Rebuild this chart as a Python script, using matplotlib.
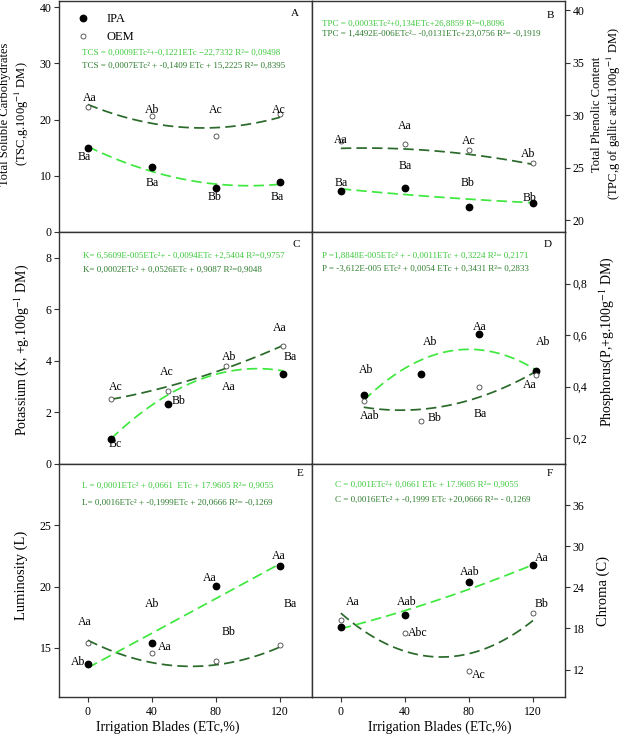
import numpy as np
import matplotlib
matplotlib.use("Agg")
import matplotlib.pyplot as plt
from matplotlib.lines import Line2D

plt.rcParams['font.family'] = ['Liberation Serif', 'DejaVu Serif']
plt.rcParams['mathtext.fontset'] = 'stix'

# ---------------- data ----------------
blades = [0, 40, 80, 120]
xtick_labels = ["0", "40", "80", "120"]

tsc_ipa = [15.0, 11.6, 7.8, 8.9]
tsc_oem = [22.3, 20.7, 17.1, 21.0]
tsc_ipa_trend = [15.2, 10.8, 8.5, 8.5]
tsc_oem_trend = [22.7, 19.3, 18.6, 20.4]

tpc_ipa = [22.8, 23.1, 21.3, 21.7]
tpc_oem = [27.6, 27.3, 26.7, 25.5]
tpc_ipa_trend = [23.0, 22.5, 22.0, 21.7]
tpc_oem_trend = [26.8, 27.0, 26.1, 25.4]

k_ipa = [0.96, 2.32, np.nan, 3.51]
k_oem = [2.52, 2.84, 3.79, 4.59]
k_ipa_trend = [0.96, 2.71, 3.55, 3.62]
k_oem_trend = [2.52, 2.97, 3.75, 4.59]

p_ipa = [0.368, 0.45, 0.605, 0.46]
p_oem = [0.345, 0.268, 0.40, 0.447]
p_ipa_trend = [0.348, 0.50, 0.547, 0.463]
p_oem_trend = [0.32, 0.313, 0.358, 0.46]

lum_ipa = [13.66, 15.41, 20.06, 21.70]
lum_oem = [15.44, 14.59, 13.91, 15.28]
lum_ipa_trend = [13.39, 16.18, 19.05, 21.86]
lum_oem_trend = [15.63, 13.81, 13.62, 15.08]

chroma_ipa = [18.28, 19.99, 24.84, 27.19]
chroma_oem = [19.25, 17.40, 11.75, 20.19]
chroma_ipa_trend = [17.98, 20.57, 23.76, 27.29]
chroma_oem_trend = [20.2, 14.8, 14.2, 19.2]

eq_A = ["TCS = 0,0009ETc²+-0,1221ETc −22,7332 R²= 0,09498",
        "TCS = 0,0007ETc² + -0,1409 ETc + 15,2225 R²= 0,8395"]
eq_B = ["TPC = 0,0003ETc²+0,134ETc+26,8859 R²=0,8096",
        "TPC = 1,4492E-006ETc²– -0,0131ETc+23,0756 R²= -0,1919"]
eq_C = ["K= 6,5609E-005ETc²+ - 0,0094ETc +2,5404 R²=0,9757",
        "K= 0,0002ETc² + 0,0526ETc + 0,9087 R²=0,9048"]
eq_D = ["P =1,8848E-005ETc² + - 0,0011ETc + 0,3224 R²= 0,2171",
        "P = -3,612E-005 ETc² + 0,0054 ETc + 0,3431 R²= 0,2833"]
eq_E = ["L = 0,0001ETc² + 0,0661  ETc + 17.9605 R²= 0,9055",
        "L= 0,0016ETc² + -0,1999ETc + 20,0666 R²= -0,1269"]
eq_F = ["C = 0,001ETc²+ 0,0661 ETc + 17.9605 R²= 0,9055",
        "C = 0,0016ETc² + -0,1999 ETc +20,0666 R²= - 0,1269"]

letters_A = ["Aa", "Ab", "Ac", "Ac", "Ba", "Ba", "Bb", "Ba"]
letters_B = ["Aa", "Aa", "Ac", "Ab", "Ba", "Ba", "Bb", "Bb"]
letters_C = ["Ac", "Ac", "Ab", "Aa", "Ba", "Aa", "Bb", "Bc"]
letters_D = ["Ab", "Ab", "Aa", "Ab", "Aab", "Bb", "Ba", "Aa"]
letters_E = ["Ab", "Aa", "Ab", "Aa", "Aa", "Bb", "Aa", "Ba"]
letters_F = ["Aa", "Aab", "Abc", "Aab", "Ac", "Aa", "Bb"]

# ---------------- style ----------------
LIGHT = "#3ee83e"
DARK = "#2a6a2a"
EQ_LIGHT = "#3cc83c"
EQ_DARK = "#2f7d2f"
SPINE = "#333333"
W, H = 625, 739

fig = plt.figure(figsize=(W / 100, H / 100), dpi=100)


def box(l, t, r, b):
    return [l / W, 1 - b / H, (r - l) / W, (b - t) / H]


def panel(rect, ipa, oem, ipa_tr, oem_tr, ylim, yticks, yticklabels, side,
          xlim, eqs, eq_xy, eq_dy, letter, letter_xy, letters, letter_pos,
          bottom_row):
    ax = fig.add_axes(rect)
    xs = np.linspace(0, 120, 120)
    for tr, col in ((oem_tr, DARK), (ipa_tr, LIGHT)):
        c = np.polyfit(blades, tr, 2)
        ax.plot(xs, np.polyval(c, xs), color=col, lw=1.25, dashes=(6, 3), zorder=2)
    ax.plot(blades, ipa, 'o', ms=4.6, color='black', ls='none', zorder=3)
    ax.plot(blades, oem, 'o', ms=3.6, mfc='white', mec='#444444', mew=0.6,
            ls='none', zorder=3)
    ax.set_xlim(*xlim)
    ax.set_ylim(*ylim)
    ax.set_yticks(yticks)
    ax.set_yticklabels(yticklabels)
    for s in ax.spines.values():
        s.set_color(SPINE)
        s.set_linewidth(1.0)
    if side == 'left':
        ax.tick_params(axis='y', left=True, right=False, labelleft=True,
                       labelright=False, direction='out', length=3.5,
                       labelsize=8.5, color=SPINE, pad=2)
    else:
        ax.tick_params(axis='y', left=False, right=True, labelleft=False,
                       labelright=True, direction='out', length=3.5,
                       labelsize=8.5, color=SPINE, pad=2)
    if bottom_row:
        ax.set_xticks(blades)
        ax.set_xticklabels(xtick_labels)
        ax.tick_params(axis='x', direction='out', length=3.5, labelsize=8.5,
                       color=SPINE, pad=3)
    else:
        ax.set_xticks([])
    ax.text(eq_xy[0], eq_xy[1], eqs[0], transform=ax.transAxes, fontsize=6.5,
            color=EQ_LIGHT, ha='left', va='center')
    ax.text(eq_xy[0], eq_xy[1] - eq_dy, eqs[1], transform=ax.transAxes,
            fontsize=6.5, color=EQ_DARK, ha='left', va='center')
    ax.text(letter_xy[0], letter_xy[1], letter, transform=ax.transAxes,
            fontsize=8, ha='center', va='center')
    for t, (px, py) in zip(letters, letter_pos):
        ax.text(px, py, t, fontsize=8.5, ha='center', va='center', zorder=4)
    return ax


xl_main = (-18, 140)
xl_mid = (-36, 140)

axA = panel(box(59, 1, 312, 232), tsc_ipa, tsc_oem, tsc_ipa_trend, tsc_oem_trend,
            (0, 41.1), [0, 10, 20, 30, 40], ["0", "10", "20", "30", "40"], 'left',
            xl_main, eq_A, (0.091, 0.774), 0.056, "A", (0.933, 0.944), letters_A,
            [(1, 23.8), (40, 21.7), (80, 21.7), (119, 21.7),
             (-2, 13.4), (40, 8.8), (79, 6.2), (118, 6.2)], False)
axA.legend(handles=[Line2D([], [], marker='o', ls='none', color='black', ms=4.6),
                    Line2D([], [], marker='o', ls='none', mfc='white',
                           mec='#444444', mew=0.6, ms=3.6)],
           labels=["IPA", "OEM"], loc='upper left', bbox_to_anchor=(0.025, 0.995),
           frameon=False, fontsize=9, handlelength=1.0, handletextpad=1.4,
           labelspacing=0.45)

panel(box(312, 1, 565, 232), tpc_ipa, tpc_oem, tpc_ipa_trend, tpc_oem_trend,
      (18.9, 40.9), [20, 25, 30, 35, 40], ["20", "25", "30", "35", "40"], 'right',
      xl_main, eq_B, (0.04, 0.900), 0.040, "B", (0.941, 0.939), letters_B,
      [(0, 27.7), (40, 29.0), (80, 27.6), (117, 26.3),
       (0, 23.6), (40, 25.2), (79, 23.6), (118, 22.1)], False)

panel(box(59, 232, 312, 464), k_ipa, k_oem, k_ipa_trend, k_oem_trend,
      (0, 9.0), [0, 2, 4, 6, 8], ["0", "2", "4", "6", "8"], 'left',
      xl_mid, eq_C, (0.095, 0.897), 0.061, "C", (0.937, 0.944), letters_C,
      [(3.5, 3.0), (38.8, 3.58), (82.4, 4.16), (117.3, 5.28),
       (125, 4.16), (82.4, 3.0), (46.9, 2.45), (2.8, 0.77)], False)

panel(box(312, 232, 565, 464), p_ipa, p_oem, p_ipa_trend, p_oem_trend,
      (0.1, 1.0), [0.2, 0.4, 0.6, 0.8], ["0,2", "0,4", "0,6", "0,8"], 'right',
      xl_mid, eq_D, (0.04, 0.897), 0.056, "D", (0.933, 0.944), letters_D,
      [(1.9, 0.464), (46, 0.573), (81, 0.633), (124.6, 0.573),
       (4, 0.287), (49.3, 0.28), (81, 0.293), (115.5, 0.405)], False)

panel(box(59, 464, 312, 697), lum_ipa, lum_oem, lum_ipa_trend, lum_oem_trend,
      (11, 30), [15, 20, 25], ["15", "20", "25"], 'left',
      xl_main, eq_E, (0.091, 0.906), 0.072, "E", (0.953, 0.961), letters_E,
      [(-6.2, 13.85), (-2, 17.13), (40.3, 18.58), (48, 15.08),
       (76.2, 20.69), (87.7, 16.26), (119, 22.46), (126.7, 18.58)], True)

panel(box(312, 464, 565, 697), chroma_ipa, chroma_oem, chroma_ipa_trend,
      chroma_oem_trend, (8, 42), [12, 18, 24, 30, 36],
      ["12", "18", "24", "30", "36"], 'right',
      xl_main, eq_F, (0.091, 0.910), 0.062, "F", (0.941, 0.961), letters_F,
      [(7.3, 21.8), (41, 21.8), (48.3, 17.4), (80.2, 26.2),
       (86.4, 11.26), (125.4, 28.3), (125.4, 21.56)], True)

# axis titles
fig.text(15 / W, 1 - 114 / H,
         "Total Soluble Carbohydrates\n(TSC,g.100g$^{-1}$ DM)",
         rotation=90, ha='center', va='center', fontsize=9, linespacing=1.2)
fig.text(607 / W, 1 - 114 / H,
         "Total Phenolic Content\n(TPC,g of gallic acid.100g$^{-1}$ DM)",
         rotation=90, ha='center', va='center', fontsize=9, linespacing=1.2)
fig.text(22 / W, 1 - 350 / H, "Potassium (K, +g.100g$^{-1}$ DM)",
         rotation=90, ha='center', va='center', fontsize=10)
fig.text(607 / W, 1 - 342 / H, "Phosphorus(P,+g.100g$^{-1}$ DM)",
         rotation=90, ha='center', va='center', fontsize=10)
fig.text(21 / W, 1 - 575 / H, "Luminosity (L)",
         rotation=90, ha='center', va='center', fontsize=10.5)
fig.text(603 / W, 1 - 591 / H, "Chroma (C)",
         rotation=90, ha='center', va='center', fontsize=10.5)
fig.text(168 / W, 1 - 727 / H, "Irrigation Blades (ETc,%)",
         ha='center', va='center', fontsize=10)
fig.text(440 / W, 1 - 727 / H, "Irrigation Blades (ETc,%)",
         ha='center', va='center', fontsize=10)

fig.savefig("out.png", dpi=100)
